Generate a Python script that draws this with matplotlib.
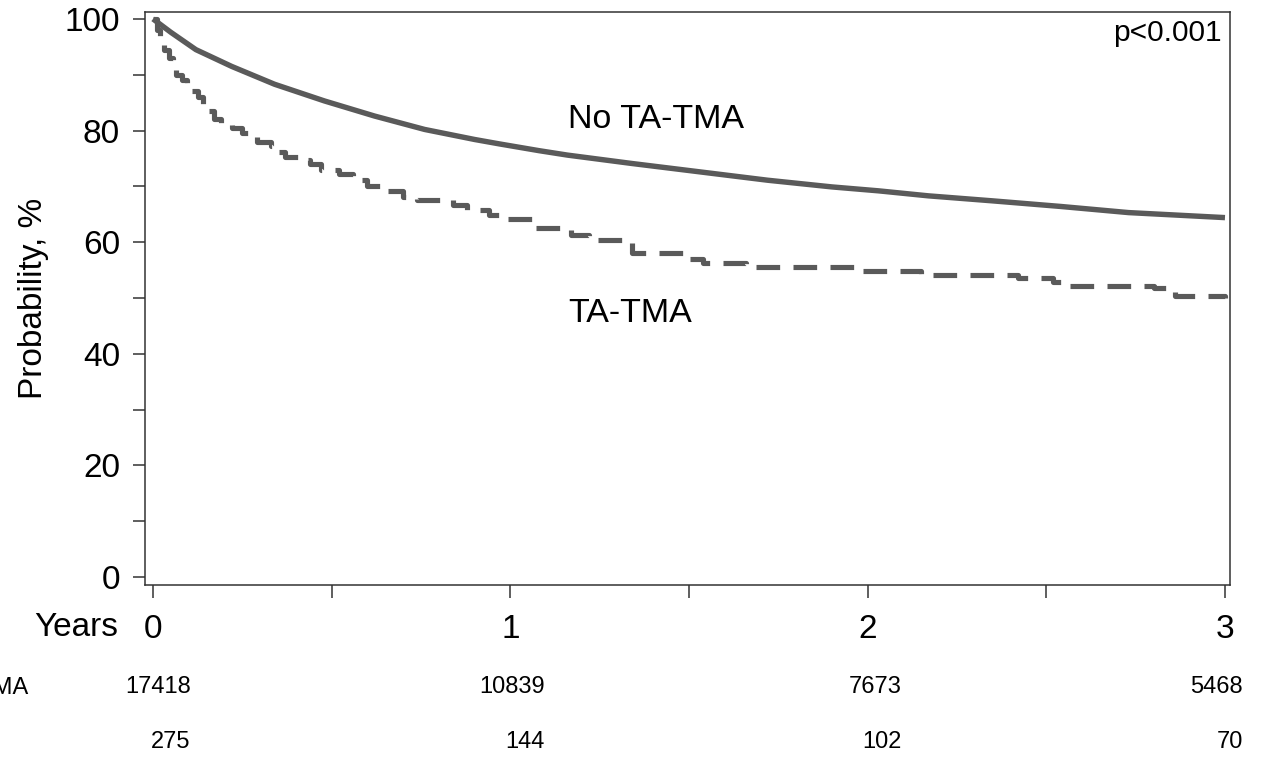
import matplotlib
matplotlib.use("Agg")
import matplotlib.pyplot as plt
from matplotlib.transforms import blended_transform_factory
from matplotlib.ticker import MultipleLocator

# survival curve, no TA-TMA (years, %)
no_tma_t = [0.0, 0.05, 0.12, 0.22, 0.34, 0.48, 0.62, 0.76, 0.90, 0.97, 1.08,
            1.16, 1.34, 1.53, 1.72, 1.90, 2.03, 2.17, 2.35, 2.54, 2.73, 2.91, 3.0]
no_tma_p = [100.0, 97.6, 94.5, 91.5, 88.3, 85.3, 82.6, 80.2, 78.4, 77.6, 76.4,
            75.6, 74.1, 72.6, 71.1, 69.9, 69.2, 68.3, 67.4, 66.4, 65.3, 64.7, 64.4]

# survival curve, TA-TMA (step function)
tma_t = [0.0, 0.01, 0.02, 0.03, 0.045, 0.055, 0.065, 0.08, 0.095, 0.11, 0.125,
         0.14, 0.155, 0.17, 0.19, 0.22, 0.25, 0.27, 0.29, 0.33, 0.35, 0.37,
         0.41, 0.44, 0.47, 0.52, 0.56, 0.60, 0.64, 0.70, 0.74, 0.84, 0.88,
         0.94, 0.99, 1.07, 1.17, 1.22, 1.34, 1.50, 1.54, 1.66, 1.97, 2.15,
         2.42, 2.52, 2.56, 2.80, 2.86, 3.0]
tma_p = [100.0, 98.0, 96.0, 94.5, 93.0, 91.5, 90.0, 89.0, 88.0, 87.0, 86.0,
         84.8, 83.5, 82.0, 81.0, 80.5, 79.6, 78.8, 78.0, 77.2, 76.2, 75.3,
         74.8, 74.0, 73.0, 72.3, 71.2, 70.0, 69.2, 68.1, 67.5, 66.7, 65.7,
         64.9, 64.1, 62.6, 61.2, 60.3, 58.0, 57.0, 56.3, 55.5, 54.8, 54.2,
         53.6, 52.9, 52.2, 51.7, 50.3, 50.0]

years = [0, 1, 2, 3]
at_risk_no_tma = ["17418", "10839", "7673", "5468"]
at_risk_tma = ["275", "144", "102", "70"]

font = "Liberation Sans"
gray = "#5a5a5a"
fig = plt.figure(figsize=(12.61, 7.62), dpi=100)
ax = fig.add_axes([0.115, 0.2323, 0.8604, 0.752])

ax.plot(no_tma_t, no_tma_p, color=gray, lw=3.9, solid_capstyle="butt")
ln, = ax.plot(tma_t, tma_p, color=gray, lw=3.7, drawstyle="steps-post")
ln.set_dashes((4.6, 2.6))

ax.set_xlim(-0.0224, 3.014)
ax.set_ylim(-1.43, 101.25)
ax.set_yticks([0, 20, 40, 60, 80, 100])
ax.yaxis.set_minor_locator(MultipleLocator(10))
ax.set_xticks(years)
ax.xaxis.set_minor_locator(MultipleLocator(0.5))

for lab in ax.get_xticklabels() + ax.get_yticklabels():
    lab.set_fontfamily(font)
    lab.set_fontsize(24)
ax.tick_params(axis="both", which="both", direction="out", length=9,
               width=1.1, color="#333333")
ax.tick_params(axis="y", pad=9)
ax.tick_params(axis="x", pad=12)
for s in ax.spines.values():
    s.set_color("#333333")
    s.set_linewidth(1.1)

ax.set_ylabel("Probability, %", fontsize=24, family=font, labelpad=11)

ax.text(1.161, 82.0, "No TA-TMA", fontsize=24.5, family=font, ha="left", va="center")
ax.text(1.161, 47.2, "TA-TMA", fontsize=24.5, family=font, ha="left", va="center")
fig.text(1222 / 1261, 1 - 33 / 762, "p<0.001", fontsize=21.5, family=font,
         ha="right", va="center")
fig.text(118 / 1261, 1 - 628 / 762, "Years", fontsize=24, family=font,
         ha="right", va="center")

# numbers at risk
risk_style = dict(family=font, fontsize=17)
blend = blended_transform_factory(ax.transData, fig.transFigure)
offsets = [27, 25, 24.5, 13]
for t, n1, n2, dx in zip(years, at_risk_no_tma, at_risk_tma, offsets):
    ax.annotate(n1, xy=(t, 1 - 687 / 762), xycoords=blend, xytext=(dx, 0),
                textcoords="offset points", ha="right", va="center",
                annotation_clip=False, **risk_style)
    ax.annotate(n2, xy=(t, 1 - 742 / 762), xycoords=blend, xytext=(dx, 0),
                textcoords="offset points", ha="right", va="center",
                annotation_clip=False, **risk_style)
fig.text(28 / 1261, 1 - 688 / 762, "No TA-TMA", ha="right", va="center", **risk_style)

fig.savefig("out.png", dpi=100)
